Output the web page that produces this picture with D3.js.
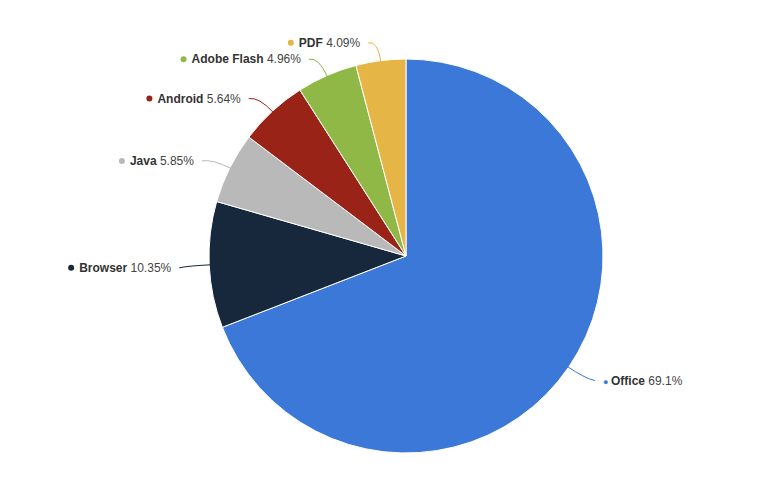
<!DOCTYPE html><html><head><meta charset="utf-8"><script src="https://cdn.jsdelivr.net/npm/d3@7"></script>
<style>body{margin:0;background:#fff}</style></head><body><svg id="c" width="772" height="489"></svg><script>
const categories=["Office","Browser","Java","Android","Adobe Flash","PDF"];
const values=[69.1,10.35,5.85,5.64,4.96,4.09];
const labels=["69.1%","10.35%","5.85%","5.64%","4.96%","4.09%"];
const colors=["#3c78d8","#17283c","#b9b9b9","#9a2318","#8fb846","#e5b546"];
const svg=d3.select("#c"),cx=406,cy=256,r=197;
const g=svg.append("g").attr("transform",`translate(${cx},${cy})`);
const data=categories.map((c,i)=>({c,v:values[i],l:labels[i],col:colors[i]}));
const arcs=d3.pie().value(d=>d.v).sort(null)(data);
g.selectAll("path.s").data(arcs).join("path").attr("class","s").attr("d",d3.arc().innerRadius(0).outerRadius(r)).attr("fill",d=>d.data.col).attr("stroke","#fff").attr("stroke-width",1);
const P=(a,rr)=>[rr*Math.sin(a),-rr*Math.cos(a)];
arcs.forEach(d=>{
 const a=(d.startAngle+d.endAngle)/2, right=Math.sin(a)>0, s=right?1:-1;
 const p0=P(a,r-2),c1=P(a,r+20),e=[c1[0]+s*10,c1[1]+2];
 g.append("path").attr("d",`M${p0}Q${c1} ${e}`).attr("fill","none").attr("stroke",d.data.col).attr("stroke-width",1);
 const t=g.append("text").attr("x",e[0]+s*8).attr("y",e[1]+4).attr("text-anchor",right?"start":"end")
  .attr("font-family","Helvetica, Arial, 'Liberation Sans', sans-serif").attr("font-size",12).attr("fill","#333");
 const tx=t.node();
 if(right){t.append("tspan").text("\u25CF ").attr("fill",d.data.col).attr("font-size",9);}
 t.append("tspan").text(d.data.c).attr("font-weight","bold").attr("fill","#333").attr("font-size",12);
 t.append("tspan").text(" "+d.data.l).attr("fill","#444").attr("font-size",12);
 if(!right){const bb=tx.getBBox();g.append("circle").attr("cx",bb.x-8).attr("cy",e[1]).attr("r",3).attr("fill",d.data.col);}
});
</script></body></html>
